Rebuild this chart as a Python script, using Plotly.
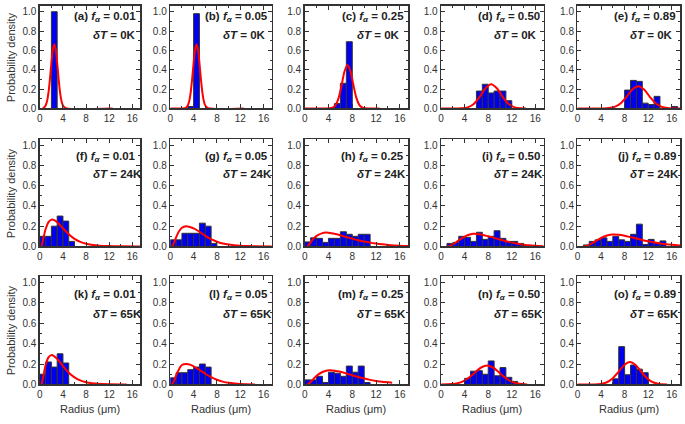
import plotly.graph_objects as go

# ---------------- data ----------------
panel_letters = ["a", "b", "c", "d", "e", "f", "g", "h", "i", "j", "k", "l", "m", "n", "o"]
f_alpha_labels = ["0.01", "0.05", "0.25", "0.50", "0.89"]
delta_t_labels = ["0K", "24K", "65K"]
x_ticks = [0, 4, 8, 12, 16]
y_ticks = [0.0, 0.2, 0.4, 0.6, 0.8, 1.0]

# histogram: lower bin edges (um) and probabilities (bin width 1 um)
a_edges = [2]
a_prob = [1.0]
b_edges = [3, 4]
b_prob = [0.02, 0.98]
c_edges = [5, 6, 7]
c_prob = [0.05, 0.26, 0.69]
d_edges = [6, 7, 8, 9, 10, 11]
d_prob = [0.18, 0.25, 0.16, 0.18, 0.18, 0.08]
e_edges = [8, 9, 10, 11, 12, 13, 16]
e_prob = [0.19, 0.29, 0.28, 0.055, 0.04, 0.125, 0.02]
f_edges = [0, 1, 2, 3, 4, 5]
f_prob = [0.10, 0.10, 0.20, 0.30, 0.25, 0.05]
g_edges = [0, 1, 2, 3, 4, 5, 6, 7]
g_prob = [0.065, 0.065, 0.13, 0.13, 0.13, 0.23, 0.20, 0.03]
h_edges = [0, 1, 2, 3, 4, 5, 6, 7, 8, 9, 10]
h_prob = [0.045, 0.085, 0.08, 0.04, 0.08, 0.08, 0.145, 0.12, 0.10, 0.12, 0.12]
i_edges = [1, 2, 3, 4, 5, 6, 7, 8, 9, 10, 11, 12, 13, 14]
i_prob = [0.03, 0.04, 0.10, 0.09, 0.05, 0.14, 0.07, 0.10, 0.155, 0.08, 0.05, 0.05, 0.03, 0.01]
j_edges = [1, 2, 3, 4, 5, 6, 7, 8, 9, 10, 11, 12, 13, 14]
j_prob = [0.015, 0.05, 0.065, 0.085, 0.05, 0.10, 0.065, 0.05, 0.12, 0.22, 0.02, 0.07, 0.035, 0.055]
k_edges = [0, 1, 2, 3, 4]
k_prob = [0.10, 0.22, 0.17, 0.30, 0.21]
l_edges = [0, 1, 2, 3, 4, 5, 6]
l_prob = [0.065, 0.115, 0.115, 0.145, 0.17, 0.20, 0.17]
m_edges = [0, 1, 2, 3, 4, 5, 6, 7, 8, 9, 10]
m_prob = [0.045, 0.045, 0.08, 0.02, 0.12, 0.11, 0.08, 0.18, 0.12, 0.18, 0.02]
n_edges = [4, 5, 6, 7, 8, 9, 10, 11, 12, 13]
n_prob = [0.06, 0.13, 0.135, 0.10, 0.23, 0.085, 0.165, 0.07, 0.03, 0.01]
o_edges = [6, 7, 8, 9, 10, 11]
o_prob = [0.055, 0.37, 0.095, 0.19, 0.15, 0.115]

# fitted distributions (radius um, density)
a_fit_r = [0.5, 0.75, 1.0, 1.25, 1.5, 1.75, 2.0, 2.25, 2.5, 2.75, 3.0, 3.25, 3.5, 3.75, 4.0, 4.5, 12.6]
a_fit_p = [0.0, 0.009, 0.03, 0.076, 0.166, 0.305, 0.47, 0.61, 0.665, 0.61, 0.47, 0.305, 0.166, 0.076, 0.03, 0.002, 0.0]
b_fit_r = [0.0, 2.5, 2.75, 3.0, 3.25, 3.5, 3.75, 4.0, 4.25, 4.5, 4.75, 5.0, 5.25, 5.5, 5.75, 6.0, 6.5, 12.6]
b_fit_p = [0.0, 0.002, 0.009, 0.03, 0.076, 0.166, 0.305, 0.47, 0.61, 0.66, 0.61, 0.47, 0.305, 0.166, 0.076, 0.03, 0.002, 0.0]
c_fit_r = [0.0, 4.2, 4.7, 5.2, 5.7, 6.2, 6.7, 7.2, 7.7, 8.2, 8.7, 9.2, 9.7, 10.2, 12.6]
c_fit_p = [0.0, 0.0015, 0.008, 0.035, 0.107, 0.238, 0.384, 0.45, 0.384, 0.238, 0.107, 0.035, 0.008, 0.0015, 0.0]
d_fit_r = [0.0, 3.5, 4.5, 5.5, 6.5, 7.5, 8.5, 9.5, 10.5, 11.5, 12.5, 13.5, 14.4]
d_fit_p = [0.0, 0.002, 0.011, 0.043, 0.115, 0.206, 0.25, 0.206, 0.115, 0.043, 0.011, 0.002, 0.0]
e_fit_r = [0.0, 4.3, 5.3, 6.3, 7.3, 8.3, 9.3, 10.3, 11.3, 12.3, 13.3, 14.3, 15.3, 16.3, 17.4]
e_fit_p = [0.0, 0.0006, 0.0036, 0.016, 0.051, 0.118, 0.195, 0.23, 0.195, 0.118, 0.051, 0.016, 0.0036, 0.0006, 0.0]
f_fit_r = [0.3, 0.6, 1.0, 1.5, 2.0, 2.5, 3.0, 4.0, 5.0, 6.0, 7.0, 8.0, 10.0, 12.0, 14.0, 17.4]
f_fit_p = [0.0, 0.08, 0.17, 0.24, 0.265, 0.26, 0.24, 0.18, 0.12, 0.075, 0.045, 0.027, 0.01, 0.004, 0.0015, 0.0]
g_fit_r = [0.3, 0.6, 1.0, 1.5, 2.0, 2.7, 3.5, 4.0, 5.0, 6.0, 7.0, 8.0, 9.0, 10.0, 12.0, 14.0, 17.4]
g_fit_p = [0.0, 0.03, 0.09, 0.15, 0.185, 0.2, 0.19, 0.178, 0.145, 0.105, 0.072, 0.047, 0.03, 0.019, 0.007, 0.003, 0.0]
h_fit_r = [0.5, 1.0, 1.5, 2.0, 3.0, 3.5, 4.0, 5.0, 6.0, 7.0, 8.0, 9.0, 10.0, 11.0, 12.0, 13.0, 14.0, 16.0, 17.4]
h_fit_p = [0.0, 0.04, 0.08, 0.105, 0.132, 0.137, 0.135, 0.125, 0.11, 0.093, 0.077, 0.062, 0.049, 0.038, 0.029, 0.021, 0.015, 0.007, 0.004]
i_fit_r = [1.0, 1.5, 2.0, 3.0, 4.0, 5.0, 5.5, 6.0, 7.0, 8.0, 9.0, 10.0, 11.0, 12.0, 13.0, 14.0, 15.0, 16.0, 17.4]
i_fit_p = [0.0, 0.005, 0.02, 0.06, 0.098, 0.12, 0.125, 0.124, 0.115, 0.1, 0.085, 0.068, 0.052, 0.038, 0.027, 0.018, 0.011, 0.007, 0.003]
j_fit_r = [1.0, 1.5, 2.0, 3.0, 4.0, 5.0, 6.0, 7.0, 8.0, 9.0, 10.0, 11.0, 12.0, 13.0, 14.0, 15.0, 16.0, 17.4]
j_fit_p = [0.0, 0.005, 0.015, 0.05, 0.085, 0.108, 0.118, 0.115, 0.105, 0.092, 0.078, 0.064, 0.051, 0.04, 0.03, 0.022, 0.016, 0.01]
k_fit_r = [0.3, 0.6, 1.0, 1.5, 2.0, 2.5, 3.0, 4.0, 5.0, 6.0, 7.0, 8.0, 9.0, 10.0, 12.0, 15.0]
k_fit_p = [0.0, 0.08, 0.19, 0.265, 0.287, 0.275, 0.25, 0.18, 0.115, 0.07, 0.04, 0.022, 0.012, 0.006, 0.002, 0.0]
l_fit_r = [0.3, 0.6, 1.0, 1.5, 2.0, 2.7, 3.5, 4.0, 5.0, 6.0, 7.0, 8.0, 9.0, 10.0, 11.0, 12.0, 14.5]
l_fit_p = [0.0, 0.03, 0.09, 0.15, 0.19, 0.2, 0.192, 0.178, 0.143, 0.105, 0.072, 0.046, 0.028, 0.016, 0.009, 0.005, 0.0]
m_fit_r = [0.5, 1.0, 1.5, 2.0, 3.0, 4.2, 5.0, 6.0, 7.0, 8.0, 9.0, 10.0, 11.0, 12.0, 13.0, 14.7]
m_fit_p = [0.0, 0.025, 0.055, 0.085, 0.122, 0.138, 0.135, 0.125, 0.108, 0.09, 0.073, 0.058, 0.045, 0.035, 0.027, 0.018]
n_fit_r = [0.0, 1.8, 2.8, 3.8, 4.8, 5.8, 6.8, 7.8, 8.8, 9.8, 10.8, 11.8, 12.8, 13.8, 14.6]
n_fit_p = [0.0, 0.0038, 0.012, 0.033, 0.07, 0.12, 0.166, 0.185, 0.166, 0.12, 0.07, 0.033, 0.012, 0.0038, 0.001]
o_fit_r = [0.0, 2.9, 3.9, 4.9, 5.9, 6.9, 7.9, 8.9, 9.9, 10.9, 11.9, 12.9, 13.9, 15.2]
o_fit_p = [0.0, 0.001, 0.005, 0.019, 0.056, 0.119, 0.189, 0.22, 0.189, 0.119, 0.056, 0.019, 0.005, 0.001]

edges_all = [a_edges, b_edges, c_edges, d_edges, e_edges, f_edges, g_edges, h_edges,
             i_edges, j_edges, k_edges, l_edges, m_edges, n_edges, o_edges]
prob_all = [a_prob, b_prob, c_prob, d_prob, e_prob, f_prob, g_prob, h_prob,
            i_prob, j_prob, k_prob, l_prob, m_prob, n_prob, o_prob]
fit_r_all = [a_fit_r, b_fit_r, c_fit_r, d_fit_r, e_fit_r, f_fit_r, g_fit_r, h_fit_r,
             i_fit_r, j_fit_r, k_fit_r, l_fit_r, m_fit_r, n_fit_r, o_fit_r]
fit_p_all = [a_fit_p, b_fit_p, c_fit_p, d_fit_p, e_fit_p, f_fit_p, g_fit_p, h_fit_p,
             i_fit_p, j_fit_p, k_fit_p, l_fit_p, m_fit_p, n_fit_p, o_fit_p]

# ---------------- layout geometry (pixels) ----------------
W, H = 685, 424
col_px = [(37, 138), (168, 270), (303, 407), (440, 543), (577, 680)]
row_px = [(6, 110), (141, 250), (280, 390)]
FONT = "Liberation Sans, Arial, sans-serif"
AXC = "#333333"

fig = go.Figure()
layout = dict(
    width=W, height=H, margin=dict(l=0, r=0, t=0, b=0),
    paper_bgcolor="white", plot_bgcolor="white", showlegend=False,
    font=dict(family=FONT, color=AXC, size=10),
)
annotations = []

for idx in range(15):
    r, c = divmod(idx, 5)
    sfx = "" if idx == 0 else str(idx + 1)
    x0, x1 = col_px[c]
    y0, y1 = row_px[r]
    xa = "x" + sfx
    ya = "y" + sfx

    fig.add_trace(go.Bar(
        x=[e + 0.5 for e in edges_all[idx]], y=prob_all[idx], width=1.0,
        marker=dict(color="#0000ee", line=dict(color="#333333", width=1)),
        xaxis=xa, yaxis=ya, hoverinfo="skip"))
    fig.add_trace(go.Scatter(
        x=fit_r_all[idx], y=fit_p_all[idx], mode="lines",
        line=dict(color="#ff0000", width=2, shape="spline", smoothing=0.8),
        xaxis=xa, yaxis=ya, hoverinfo="skip"))

    common = dict(showline=True, linecolor=AXC, linewidth=1.5, mirror="ticks",
                  ticks="inside", ticklen=4, tickwidth=1, tickcolor=AXC,
                  showgrid=False, zeroline=False, fixedrange=True,
                  tickfont=dict(family=FONT, size=10, color=AXC))
    layout["xaxis" + sfx] = dict(
        common, domain=[x0 / W, x1 / W], anchor=ya, range=[0, 17.4],
        tickvals=x_ticks, ticktext=[str(v) for v in x_ticks],
        minor=dict(tickvals=[2, 6, 10, 14], ticks="inside", ticklen=2, tickcolor=AXC))
    layout["yaxis" + sfx] = dict(
        common, domain=[1 - y1 / H, 1 - y0 / H], anchor=xa, range=[0, 1.06],
        tickvals=y_ticks, ticktext=["%.1f" % v for v in y_ticks],
        minor=dict(tickvals=[0.1, 0.3, 0.5, 0.7, 0.9], ticks="inside", ticklen=2, tickcolor=AXC))

    # panel label text
    line1_y = [17, 159, 299][r]
    line2_y = [35, 177, 318][r]
    annotations.append(dict(
        xref="paper", yref="paper", x=(x1 - 2) / W, y=1 - line1_y / H,
        xanchor="right", yanchor="middle", showarrow=False,
        text="<b>(%s) <i>f</i><sub><i>α</i></sub> = %s</b>" % (panel_letters[idx], f_alpha_labels[c]),
        font=dict(family=FONT, size=11.5, color="#222222")))
    annotations.append(dict(
        xref="paper", yref="paper", x=(x0 + 51) / W, y=1 - line2_y / H,
        xanchor="left", yanchor="middle", showarrow=False,
        text="<b><i>δT</i> = %s</b>" % delta_t_labels[r],
        font=dict(family=FONT, size=11.5, color="#222222")))

# axis titles
for r, cy in enumerate([58, 196, 335]):
    annotations.append(dict(
        xref="paper", yref="paper", x=8 / W, y=1 - cy / H, textangle=-90,
        xanchor="center", yanchor="middle", showarrow=False,
        text="Probability density", font=dict(family=FONT, size=11, color=AXC)))
for c in range(5):
    x0, x1 = col_px[c]
    annotations.append(dict(
        xref="paper", yref="paper", x=(x0 + x1) / 2 / W, y=1 - 415 / H,
        xanchor="center", yanchor="middle", showarrow=False,
        text="Radius (μm)", font=dict(family=FONT, size=11, color=AXC)))

layout["annotations"] = annotations
fig.update_layout(**layout)
fig.write_html("out.html",
               config={"displayModeBar": False, "staticPlot": True},
               post_script="document.body.style.margin='0';document.body.style.padding='0';")
